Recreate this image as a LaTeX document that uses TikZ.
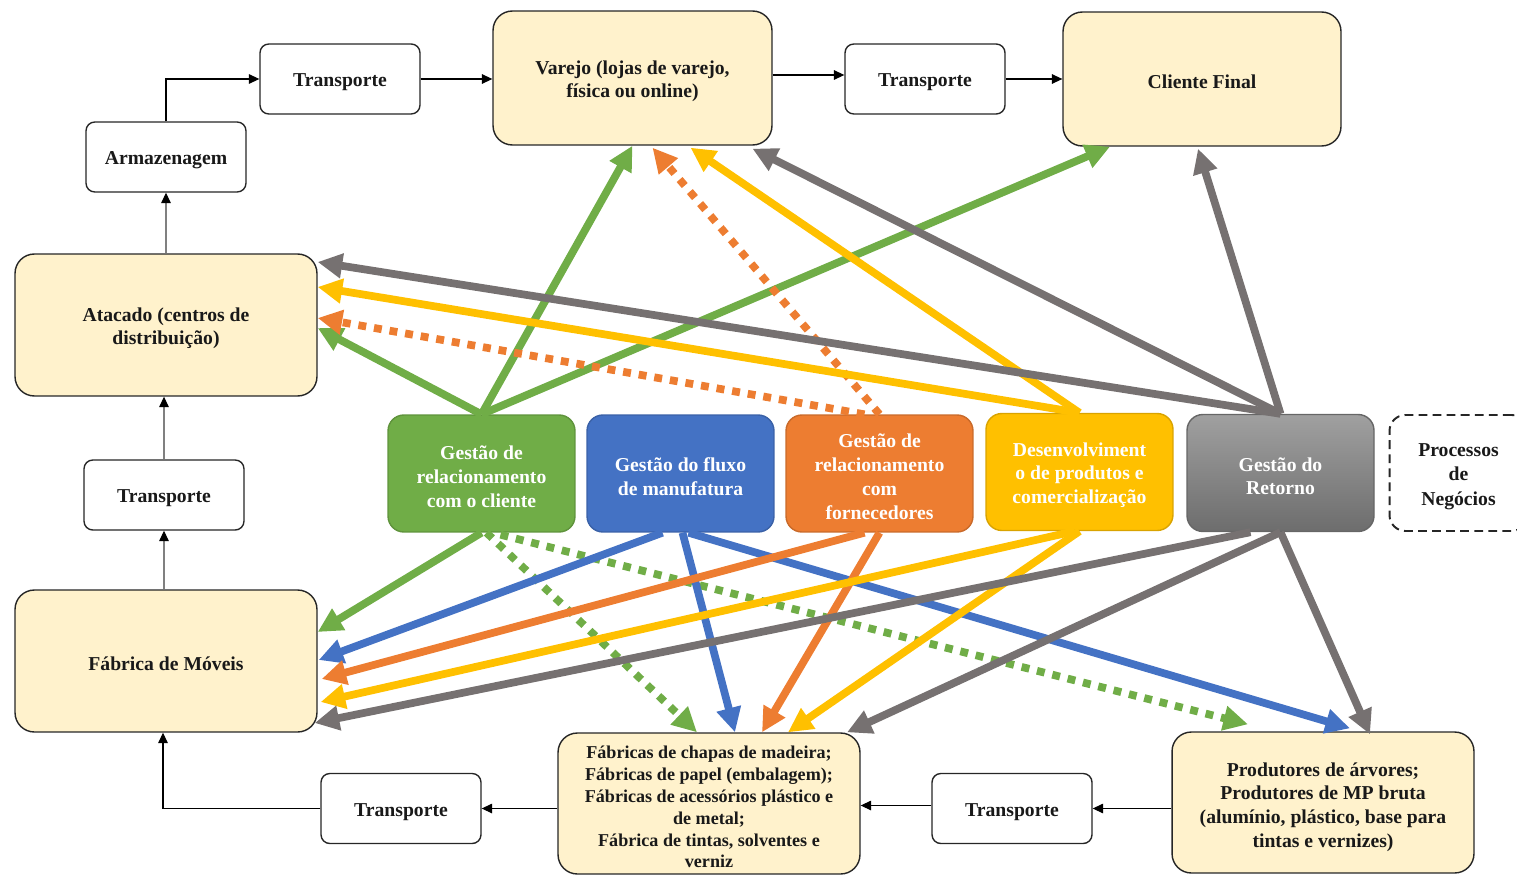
\documentclass[tikz,border=0pt]{standalone}
\usepackage{fontspec}
\setmainfont{Liberation Serif}
\usetikzlibrary{arrows.meta,calc}
\definecolor{cgreen}{HTML}{70AD47}
\definecolor{cblue}{HTML}{4472C4}
\definecolor{corange}{HTML}{ED7D31}
\definecolor{cyellow}{HTML}{FFC000}
\definecolor{cgray}{HTML}{767171}
\definecolor{lightyel}{HTML}{FFF2CC}
\definecolor{gtop}{HTML}{A0A0A0}
\definecolor{gbot}{HTML}{6D6D6D}
\newcommand{\lstrut}{\rule{0pt}{11.4pt}}
\begin{document}
\begin{tikzpicture}[x=0.02cm,y=-0.02cm,
  font=\bfseries\fontsize{11.2}{13.5}\selectfont,
  tbox/.style={draw=black!85, line width=0.8pt, rounded corners=5pt, fill=white,
    minimum width=3.2cm, minimum height=1.4cm, align=center, inner sep=0pt, text=black!90},
  ybox/.style={draw=black!85, line width=0.8pt, rounded corners=11pt, fill=lightyel,
    align=center, inner sep=0pt, text=black!90},
  pbox/.style={line width=0.8pt, rounded corners=9pt, minimum width=3.74cm,
    minimum height=2.34cm, align=center, inner sep=0pt, text=white},
  conn/.style={line width=0.6pt, draw=black, -{Triangle[length=6pt,width=5.5pt,black]}},
  gconn/.style={line width=0.6pt, draw=black!50, -{Triangle[length=6pt,width=5.5pt,black]}},
  arr/.style={line width=4.4pt, -{Triangle[length=14pt,width=13.5pt]}},
  dsh/.style={dash pattern=on 4.5pt off 4.5pt}
]
\useasboundingbox (0,0) rectangle (1517,875);

% black-outline boxes
\node[tbox] (T1) at (340,79) {\lstrut Transporte};
\node[tbox] (Arm) at (166,157) {\lstrut Armazenagem};
\node[tbox] (T2) at (925,79) {\lstrut Transporte};
\node[tbox] (T3) at (164,495) {\lstrut Transporte};
\node[tbox] (T4) at (401,808.5) {\lstrut Transporte};
\node[tbox] (T5) at (1012,808.5) {\lstrut Transporte};

% light yellow boxes
\node[ybox, minimum width=5.58cm, minimum height=2.68cm] (Var) at (632.5,78) {\lstrut Varejo (lojas de varejo,\\ física ou online)};
\node[ybox, minimum width=5.56cm, minimum height=2.68cm] (Cli) at (1202,79) {\lstrut Cliente Final};
\node[ybox, minimum width=6.04cm, minimum height=2.84cm] (Ata) at (166,325) {\lstrut Atacado (centros de\\ distribuição)};
\node[ybox, minimum width=6.04cm, minimum height=2.84cm] (Fab) at (166,661) {\lstrut Fábrica de Móveis};
\node[ybox, minimum width=6.04cm, minimum height=2.82cm, font=\bfseries\fontsize{10.3}{12.4}\selectfont] (Cha) at (709,803.5)
  {\lstrut Fábricas de chapas de madeira;\\ Fábricas de papel (embalagem);\\ Fábricas de acessórios plástico e\\ de metal;\\ Fábrica de tintas, solventes e\\ verniz};
\node[ybox, minimum width=6.04cm, minimum height=2.82cm] (Pro) at (1323,802.5)
  {\rule{0pt}{13pt}Produtores de árvores;\\ Produtores de MP bruta\\ (alumínio, plástico, base para\\ tintas e vernizes)};

% process boxes
\node[pbox, fill=cgreen, draw=cgreen!85!black] (G) at (481.5,473.5) {\lstrut Gestão de\\ relacionamento\\ com o cliente};
\node[pbox, fill=cblue, draw=cblue!85!black] (B) at (680.5,473.5) {\lstrut Gestão do fluxo\\ de manufatura};
\node[pbox, fill=corange, draw=corange!85!black] (O) at (879.5,473.5) {\lstrut Gestão de\\ relacionamento\\ com\\ fornecedores};
\node[pbox, fill=cyellow, draw=cyellow!85!black] (Y) at (1079.5,472) {\lstrut Desenvolviment\\ o de produtos e\\ comercialização};
\node[pbox, top color=gtop, bottom color=gbot, draw=black!60] (R) at (1280.5,473) {\lstrut Gestão do\\ Retorno};
\node[pbox, draw=black!85, line width=1.1pt, dash pattern=on 5pt off 3pt, text=black!90,
  font=\bfseries\fontsize{11.2}{13.8}\selectfont,
  minimum width=2.76cm, minimum height=2.32cm] (P) at (1458.5,473) {\lstrut Processos\\ de\\ Negócios};

% black connectors
\draw[conn] (Arm.north) |- (T1.west);
\draw[conn] (T1.east) -- (Var.west |- T1.east);
\draw[conn] ($(Var.east)+(0,-3)$) -- ($(T2.west)+(0,-4)$);
\draw[conn] (T2.east) -- (Cli.west |- T2.east);
\draw[gconn] (Ata.north) -- (Arm.south);
\draw[gconn] (T3.north) -- (T3.north |- Ata.south);
\draw[gconn] (Fab.north -| T3.north) -- (T3.south);
\draw[conn] (T4.west) -| ($(Fab.south)+(-3,0)$);
\draw[conn] (Cha.west |- T4.east) -- (T4.east);
\draw[conn] ($(T5.west)+(0,-3)$) -- ($(Cha.east |- T5.west)+(0,-3)$);
\draw[conn] (Pro.west |- T5.east) -- (T5.east);

% green
\draw[arr,cgreen] (G.north) -- (Var.south);
\draw[arr,cgreen] (G.north) -- ($(Cli.south)+(-92,0)$);
\draw[arr,cgreen] (G.north) -- ($(Ata.east)+(0,3)$);
\draw[arr,cgreen] (G.south) -- ($(Fab.east)+(0,-29)$);
\draw[arr,cgreen,dsh] ($(G.south)+(5,0)$) -- ($(Cha.north)+(-12,0)$);
\draw[arr,cgreen,dsh] ($(G.south)+(19,2)$) -- ($(Pro.north)+(-75,-7)$);

% blue
\draw[arr,cblue] ($(B.south)+(-18,0)$) -- ($(Fab.east)+(1,-1)$);
\draw[arr,cblue] ($(B.south)+(2,0)$) -- ($(Cha.north)+(26,0)$);
\draw[arr,cblue] ($(B.south)+(8,0)$) -- ($(Pro.north)+(27,-3)$);

% orange
\draw[arr,corange,dsh] (O.north) -- ($(Var.south)+(20,2)$);
\draw[arr,corange,dsh] ($(O.north)+(-15,0)$) -- ($(Ata.east)+(0,-7)$);
\draw[arr,corange] ($(O.south)+(-15,0)$) -- ($(Fab.east)+(4,18)$);
\draw[arr,corange] (O.south) -- ($(Cha.north)+(53,0)$);

% yellow
\draw[arr,cyellow] (Y.north) -- ($(Var.south)+(58,2)$);
\draw[arr,cyellow] (Y.north) -- ($(Ata.east)+(0,-38)$);
\draw[arr,cyellow] ($(Y.south)+(-5,0)$) -- ($(Fab.east)+(3,41)$);
\draw[arr,cyellow] (Y.south) -- ($(Cha.north)+(79,0)$);

% gray
\draw[arr,cgray] (R.north) -- ($(Var.south)+(120,3)$);
\draw[arr,cgray] (R.north) -- ($(Cli.south)+(-4,2)$);
\draw[arr,cgray] (R.north) -- ($(Ata.east)+(0,-63)$);
\draw[arr,cgray] ($(R.south)+(-30,0)$) -- ($(Fab.east)+(-3,62)$);
\draw[arr,cgray] (R.south) -- ($(Cha.north)+(138,0)$);
\draw[arr,cgray] (R.south) -- ($(Pro.north)+(47,3)$);
\end{tikzpicture}
\end{document}
